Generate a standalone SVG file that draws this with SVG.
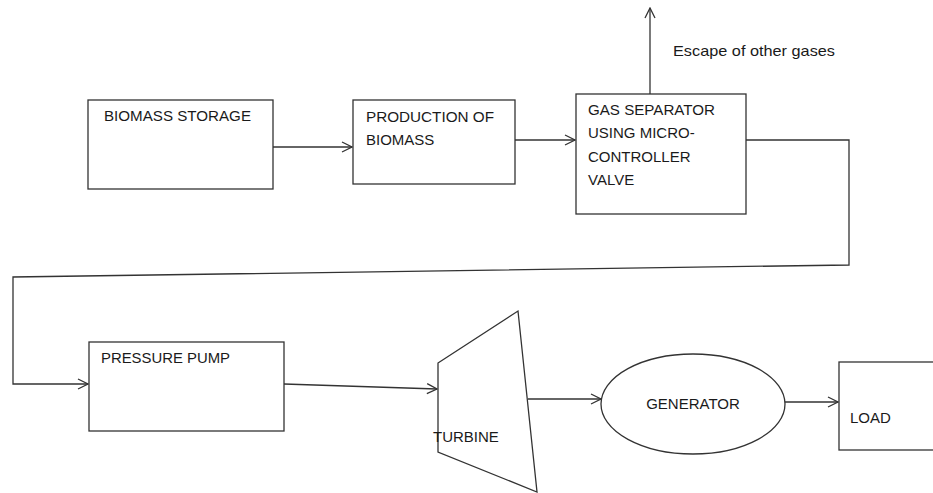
<svg xmlns="http://www.w3.org/2000/svg" width="933" height="493" viewBox="0 0 933 493">
<style>
.box{fill:#fff;stroke:#333;stroke-width:1.3}
.ln{fill:none;stroke:#333;stroke-width:1.3}
.t{font-family:"Liberation Sans",Arial,sans-serif;font-size:15px;fill:#1a1a1a}
</style>
<defs>
<marker id="ah" viewBox="0 0 12 12" refX="11" refY="6" markerWidth="12" markerHeight="12" markerUnits="userSpaceOnUse" orient="auto">
<path d="M1,1 L11,6 L1,11" fill="none" stroke="#333" stroke-width="1.3"/>
</marker>
</defs>
<rect width="933" height="493" fill="#fff"/>
<g id="connectors">
<line class="ln" x1="273" y1="147" x2="352" y2="147" marker-end="url(#ah)"/>
<line class="ln" x1="515" y1="140" x2="575" y2="140" marker-end="url(#ah)"/>
<line class="ln" x1="650" y1="94" x2="650" y2="8" marker-end="url(#ah)"/>
<polyline class="ln" points="746,140 849,140 849,265 13,277 13,384 88,384" marker-end="url(#ah)"/>
<line class="ln" x1="284" y1="384" x2="437" y2="389" marker-end="url(#ah)"/>
<line class="ln" x1="528" y1="399" x2="601" y2="399" marker-end="url(#ah)"/>
<line class="ln" x1="785" y1="402" x2="838" y2="402" marker-end="url(#ah)"/>
</g>
<g id="biomass-storage">
<rect class="box" x="88" y="100" width="185" height="89"/>
<text class="t" x="104" y="121" textLength="147" lengthAdjust="spacingAndGlyphs">BIOMASS STORAGE</text>
</g>
<g id="production">
<rect class="box" x="353" y="100" width="162" height="84"/>
<text class="t" x="366" y="122" textLength="128" lengthAdjust="spacingAndGlyphs">PRODUCTION OF</text>
<text class="t" x="366" y="145">BIOMASS</text>
</g>
<g id="gas-separator">
<rect class="box" x="576" y="94" width="170" height="120"/>
<text class="t" x="588" y="115" textLength="127" lengthAdjust="spacingAndGlyphs">GAS SEPARATOR</text>
<text class="t" x="588" y="138">USING MICRO-</text>
<text class="t" x="588" y="162">CONTROLLER</text>
<text class="t" x="588" y="185">VALVE</text>
</g>
<g id="escape-label">
<text class="t" x="673" y="56" textLength="162" lengthAdjust="spacingAndGlyphs">Escape of other gases</text>
</g>
<g id="pressure-pump">
<rect class="box" x="89" y="342" width="195" height="89"/>
<text class="t" x="101" y="363" textLength="129" lengthAdjust="spacingAndGlyphs">PRESSURE PUMP</text>
</g>
<g id="turbine">
<polygon class="box" points="438,363 518,311 537,492 438,452"/>
<text class="t" x="433" y="442">TURBINE</text>
</g>
<g id="generator">
<ellipse class="box" cx="693" cy="404" rx="92" ry="50"/>
<text class="t" x="693" y="409" text-anchor="middle">GENERATOR</text>
</g>
<g id="load">
<rect class="box" x="839" y="362" width="100" height="88"/>
<text class="t" x="850" y="423">LOAD</text>
</g>
</svg>
